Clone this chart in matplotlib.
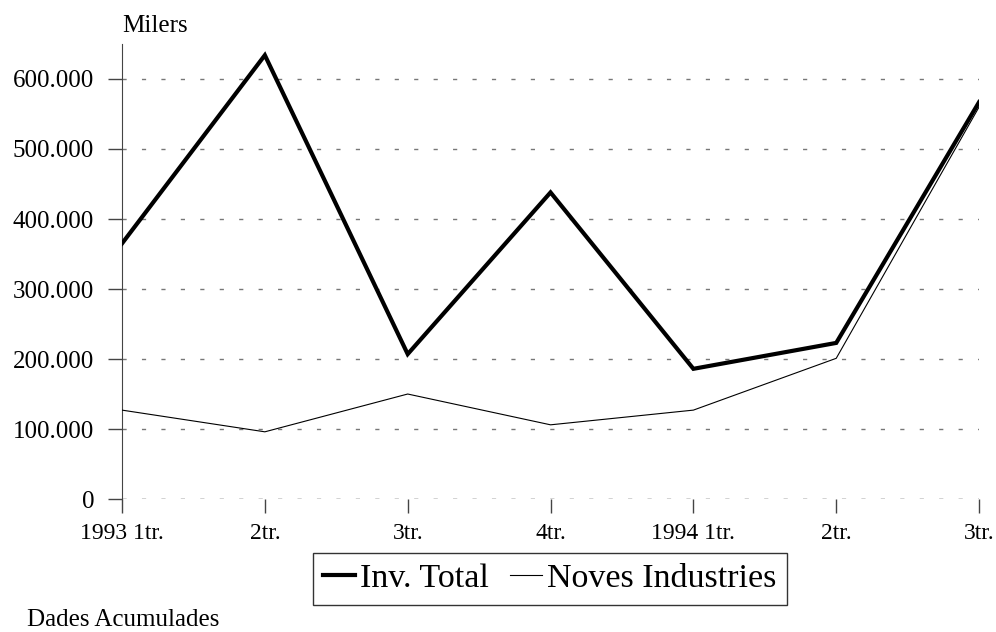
import numpy as np
import matplotlib
matplotlib.use("Agg")
import matplotlib.pyplot as plt

#%% data (thousands)
quarters = ["1993 1tr.", "2tr.", "3tr.", "4tr.", "1994 1tr.", "2tr.", "3tr."]
inv_total = [365000, 634000, 207000, 438000, 186000, 223000, 567000]
noves_ind = [127000, 96000, 150000, 106000, 127000, 201000, 560000]
yticks = [0, 100000, 200000, 300000, 400000, 500000, 600000]
ytick_labels = ["0", "100.000", "200.000", "300.000", "400.000", "500.000", "600.000"]

#%%
plt.rcParams['font.family'] = ['Liberation Serif', 'DejaVu Serif']

fig = plt.figure(figsize=(9.96, 6.32), dpi=100)
ax = fig.add_axes([0.1225, 0.2104, 0.8605, 0.72])

x = np.arange(len(quarters))
ax.plot(x, inv_total, color='black', lw=3.0, label='Inv. Total',
        solid_joinstyle='miter', zorder=3)
ax.plot(x, noves_ind, color='black', lw=0.8, label='Noves Industries', zorder=3)

ax.set_xlim(0, len(quarters) - 1)
ax.set_ylim(0, 650000)
ax.set_xticks(x)
ax.set_xticklabels(quarters, fontsize=17)
ax.set_yticks(yticks)
ax.set_yticklabels(ytick_labels, fontsize=18)

# dotted grid lines, the zero line a bit darker
for y in yticks:
    col = '#222222' if y == 0 else '#777777'
    ax.axhline(y, color=col, lw=1.0, ls=(0, (3, 11)), zorder=1)

for s in ['top', 'right', 'bottom']:
    ax.spines[s].set_visible(False)
ax.spines['left'].set_color('#444444')
ax.tick_params(axis='y', direction='out', length=10, width=1.0,
               color='#444444', pad=10)
ax.tick_params(axis='x', direction='out', length=10, width=1.0,
               color='#444444', pad=7)

fig.text(0.1225, 0.959, "Milers", fontsize=18, ha='left', va='center')
fig.text(0.027, 0.019, "Dades Acumulades", fontsize=18, ha='left', va='center')

leg = fig.legend(loc='center', bbox_to_anchor=(0.552, 0.084), ncol=2,
                 fontsize=24.5, frameon=True, fancybox=False, framealpha=1,
                 handlelength=0.95, handletextpad=0.15, columnspacing=0.6,
                 borderpad=0.3, borderaxespad=0)
leg.get_frame().set_edgecolor('#333333')
leg.get_frame().set_linewidth(1.0)

plt.savefig('out.png', dpi=100)
